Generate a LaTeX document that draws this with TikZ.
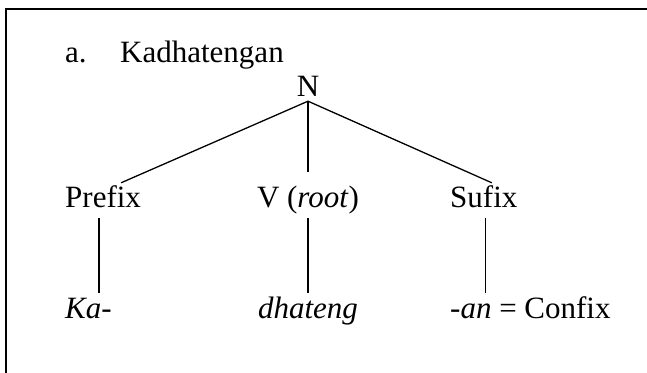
\documentclass[tikz,border=0pt]{standalone}
\usepackage{fontspec}
\setmainfont{Liberation Serif}
\begin{document}
\begin{tikzpicture}[
  x=1pt, y=1pt,
  every node/.style = {font=\fontsize{31}{37}\selectfont, inner xsep=0pt,
    inner ysep=4pt, text height=21pt, text depth=6pt},
  left word/.style = {anchor=base west},
  mid word/.style = {anchor=base},
  branch/.style = {line width=1.3pt},
  frame/.style = {line width=2pt}
  ]
  \useasboundingbox (0,0) rectangle (647,372);
  \draw[frame] (6,-2) |- (649,363);
  \node[left word] (item) at (65,309) {a.};
  \node[left word] (title) at (120,309) {Kadhatengan};
  \node[mid word, text depth=0pt] (N) at (308,275) {N};
  \node[left word] (prefix) at (65,164) {Prefix};
  \node[mid word] (root) at (308,164) {V (\textit{root})};
  \node[left word] (sufix) at (450,164) {Sufix};
  \node[left word] (ka) at (65,54) {\textit{Ka-}};
  \node[mid word] (dhateng) at (308,54) {\textit{dhateng}};
  \node[left word] (an) at (450,54) {\textit{-an} = Confix};
  \draw[branch] ([xshift=18pt]prefix.north) -- (N.south) -- ([xshift=8pt]sufix.north);
  \draw[branch] (N.south) -- ([yshift=11pt]root.north);
  \draw[branch] ([xshift=-4pt]prefix.south) -- ([xshift=-4pt]prefix.south |- ka.north);
  \draw[branch] (root.south) -- (root.south |- dhateng.north);
  \draw[branch] ([xshift=1.5pt]sufix.south) -- ([xshift=1.5pt]sufix.south |- an.north);
\end{tikzpicture}
\end{document}
